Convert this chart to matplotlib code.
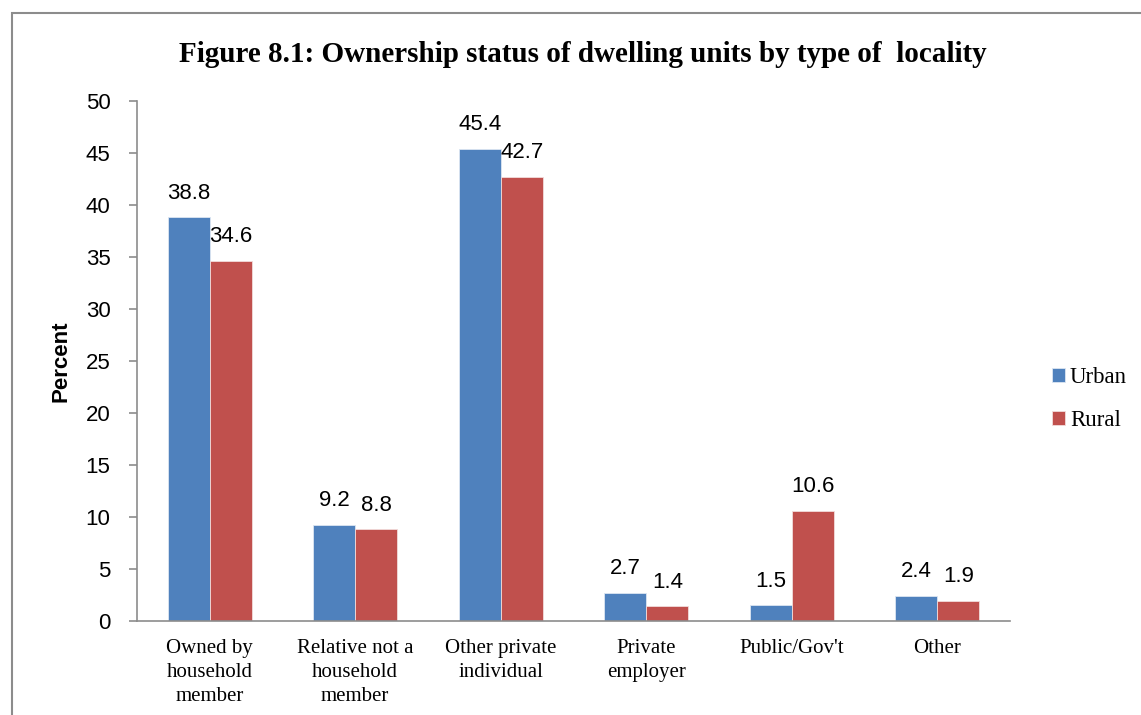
import matplotlib.pyplot as plt
import numpy as np
from matplotlib.patches import Rectangle

categories = ["Owned by\nhousehold\nmember", "Relative not a\nhousehold\nmember",
              "Other private\nindividual", "Private\nemployer", "Public/Gov't", "Other"]
urban = [38.8, 9.2, 45.4, 2.7, 1.5, 2.4]
rural = [34.6, 8.8, 42.7, 1.4, 10.6, 1.9]
yticks = [0, 5, 10, 15, 20, 25, 30, 35, 40, 45, 50]

W, H = 1141, 715
fig = plt.figure(figsize=(W / 100, H / 100), dpi=100)

# chart frame (runs off the right and bottom edges)
fig.patches.append(Rectangle((12 / W, -0.1), 1.2, 1 - 13 / H + 0.1, transform=fig.transFigure,
                             fill=False, edgecolor="#8c8c8c", linewidth=1.5))

ax = fig.add_axes([137 / W, 1 - 621 / H, (1010 - 137) / W, (621 - 101) / H])

x = np.arange(len(categories))
bw = 0.29
b1 = ax.bar(x - bw / 2, urban, bw, color="#4F81BD", edgecolor="#dce6f2", linewidth=0.6, label="Urban")
b2 = ax.bar(x + bw / 2, rural, bw, color="#C0504D", edgecolor="#f2dcdb", linewidth=0.6, label="Rural")

sans = "Liberation Sans"
serif = "Liberation Serif"
for bars, vals in ((b1, urban), (b2, rural)):
    for rect, v in zip(bars, vals):
        ax.annotate(f"{v}", (rect.get_x() + rect.get_width() / 2, v), xytext=(0, 10),
                    textcoords="offset points", ha="center", va="bottom",
                    fontsize=16, family=sans)

ax.set_xlim(-0.5, len(categories) - 0.5)
ax.set_ylim(0, 50)
ax.set_yticks(yticks)
ax.set_yticklabels([str(t) for t in yticks], fontsize=16, family=sans)
ax.set_xticks(x)
ax.set_xticklabels(categories, fontsize=15, family=serif, linespacing=1.35)
ax.tick_params(axis="x", length=0, pad=13)
ax.tick_params(axis="y", length=6, width=1.2, color="#8c8c8c", pad=13)

for s in ("top", "right"):
    ax.spines[s].set_visible(False)
for s in ("left", "bottom"):
    ax.spines[s].set_color("#8c8c8c")
    ax.spines[s].set_linewidth(1.2)

ax.set_ylabel("Percent", fontsize=16, fontweight="bold", family=sans, labelpad=10)

fig.text(583 / W, 1 - 55 / H, "Figure 8.1: Ownership status of dwelling units by type of  locality",
         ha="center", va="center", fontsize=21, fontweight="bold", family=serif)

fig.legend(handles=[b1, b2], loc="center left", bbox_to_anchor=(1031 / W, 1 - 399 / H), frameon=False,
           prop={"family": serif, "size": 16.5}, handlelength=0.6, handleheight=0.6,
           handletextpad=0.2, labelspacing=0.95)

fig.savefig("out.png", dpi=100)
